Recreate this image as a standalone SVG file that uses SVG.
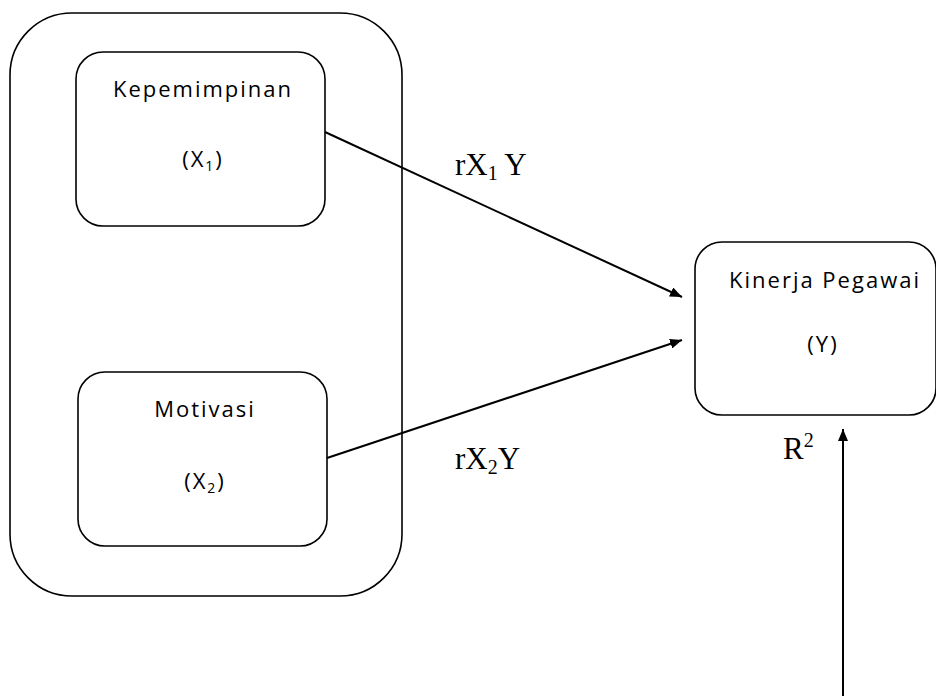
<svg xmlns="http://www.w3.org/2000/svg" width="936" height="696" viewBox="0 0 936 696">
<style>
.box{fill:none;stroke:#000;stroke-width:1.6}
.conn{stroke:#000;stroke-width:2;fill:none}
.sans{font-family:"Open Sans","Liberation Sans",sans-serif;font-size:22px;letter-spacing:2px;fill:#000;text-anchor:middle}
.serif{font-family:"Liberation Serif","Times New Roman",serif;font-size:31px;fill:#000}
</style>
<defs>
<marker id="ah" viewBox="0 0 12 10" refX="12" refY="5" markerWidth="12" markerHeight="10" markerUnits="userSpaceOnUse" orient="auto">
<path d="M0,0 L12,5 L0,10 Z" fill="#000"/>
</marker>
</defs>
<g id="group-outer">
<rect class="box" x="10" y="13" width="392" height="583" rx="62" ry="62"/>
</g>
<g id="node-x1">
<rect class="box" x="76" y="52" width="249" height="174" rx="27" ry="27"/>
<text class="sans" x="203" y="97">Kepemimpinan</text>
<text class="sans" x="203" y="167">(X<tspan font-size="14" dy="4">1</tspan><tspan dy="-4">)</tspan></text>
</g>
<g id="node-x2">
<rect class="box" x="78" y="372" width="249" height="174" rx="27" ry="27"/>
<text class="sans" x="205" y="417">Motivasi</text>
<text class="sans" x="205" y="489">(X<tspan font-size="14" dy="4">2</tspan><tspan dy="-4">)</tspan></text>
</g>
<g id="node-y">
<rect class="box" x="695" y="242" width="241" height="173" rx="27" ry="27"/>
<text class="sans" x="825" y="288">Kinerja Pegawai</text>
<text class="sans" x="823" y="352">(Y)</text>
</g>
<g id="connectors">
<line class="conn" x1="325" y1="132" x2="682" y2="297" marker-end="url(#ah)"/>
<line class="conn" x1="327" y1="458" x2="682" y2="340" marker-end="url(#ah)"/>
<line class="conn" x1="843" y1="696" x2="843" y2="429" marker-end="url(#ah)"/>
</g>
<g id="labels">
<text class="serif" x="455" y="175">rX<tspan font-size="20" dy="5">1</tspan><tspan dy="-5"> Y</tspan></text>
<text class="serif" x="455" y="469">rX<tspan font-size="20" dy="5">2</tspan><tspan dy="-5">Y</tspan></text>
<text class="serif" x="783" y="459">R<tspan font-size="20" dy="-12">2</tspan></text>
</g>
</svg>
